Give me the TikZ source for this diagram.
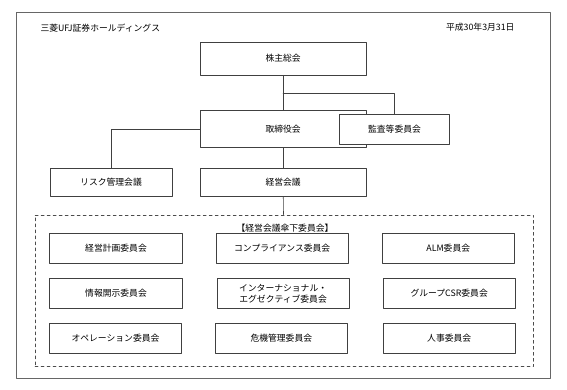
\documentclass[tikz,border=0pt]{standalone}
\usepackage{fontspec}
\setmainfont{Noto Sans CJK JP}
\begin{document}
\begin{tikzpicture}[x=1pt, y=-1pt, line cap=round, line join=round, font=\fontsize{8.8}{11}\selectfont,
		org/.style={draw=black!75, line width=0.6pt, fill=white, minimum width=165.4pt, minimum height=30pt, inner sep=1pt, align=center},
		cmt/.style={org, minimum width=132.5pt, minimum height=30pt}]
			\useasboundingbox (0,0) rectangle (567,390);
			\draw[black!60, line width=0.8pt] (16,12.7) rectangle (550.7,378.7);
			\node[anchor=west] (firm) at (37,28) {三菱UFJ証券ホールディングス};
			\node (day) at (480.3,27) {平成30年3月31日};
			% top of the chart
			\node[org, minimum height=33pt] (meeting) at (283.1,58.5) {株主総会};
			\node[org, minimum height=37pt] (board) at (283.1,129.3) {取締役会};
			\node[org, minimum width=110pt] (audit) at (394.5,129) {監査等委員会};
			\node[org, minimum width=122.4pt, minimum height=28.5pt] (risk) at (111,182.5) {リスク管理会議};
			\node[org, minimum height=28.5pt] (exec) at (283.1,182.5) {経営会議};
			\coordinate (split) at (283.1,93.3);
			\draw[black!75, line width=0.6pt] (meeting) -- (board);
			\draw[black!75, line width=0.6pt] (split) -| (audit);
			\draw[black!75, line width=0.6pt] (board) -| (risk);
			\draw[black!75, line width=0.6pt] (board) -- (exec);
			\node[org, fill=none, dashed, draw=black!70, minimum width=498.7pt, minimum height=151.7pt] (under) at (284.4,290.8) {};
			\draw[black!75, line width=0.6pt] (exec) -- (under);
			\node (undertitle) at (285,228) {【経営会議傘下委員会】};
			% committees
			\node[cmt] (plan) at (116,248.3) {経営計画委員会};
			\node[cmt] (comp) at (282.2,248.3) {コンプライアンス委員会};
			\node[cmt] (alm) at (448.3,248.3) {ALM委員会};
			\node[cmt] (disc) at (116,293.3) {情報開示委員会};
			\node[cmt] (intl) at (283.1,293.3) {インターナショナル・\\エグゼクティブ委員会};
			\node[cmt] (csr) at (449.2,293.3) {グループCSR委員会};
			\node[cmt] (oper) at (115.5,338.3) {オペレーション委員会};
			\node[cmt] (crisis) at (281.3,338.3) {危機管理委員会};
			\node[cmt] (hr) at (449.2,338.3) {人事委員会};
		\end{tikzpicture}
\end{document}
